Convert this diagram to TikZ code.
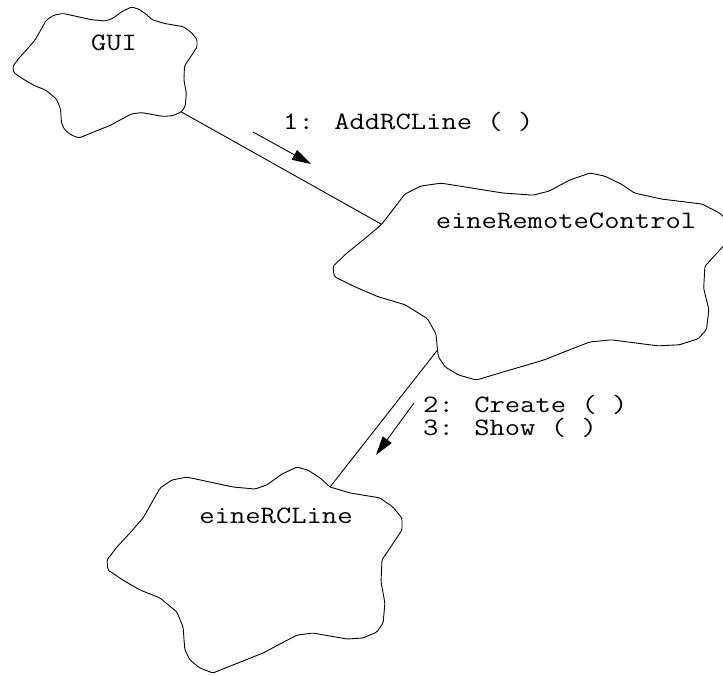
\documentclass[tikz,border=0pt]{standalone}
\usepackage{fontspec}
\usepackage{graphicx}
\usetikzlibrary{arrows.meta}

% outline of an object cloud, in unit coordinates (u to the right, v downwards)
\def\cloudpts{0.180/0.102, 0.220/0.063, 0.271/0.049, 0.349/0.073, 0.427/0.097,
  0.502/0.107, 0.542/0.087, 0.593/0.034, 0.644/0.000, 0.681/0.015, 0.722/0.053,
  0.756/0.097, 0.824/0.126, 0.925/0.150, 0.969/0.194, 1.000/0.248, 1.000/0.306,
  0.966/0.379, 0.932/0.451, 0.929/0.558, 0.942/0.660, 0.936/0.757, 0.915/0.801,
  0.868/0.830, 0.814/0.835, 0.698/0.806, 0.644/0.816, 0.593/0.854, 0.529/0.903,
  0.427/0.961, 0.359/1.000, 0.315/0.976, 0.281/0.937, 0.264/0.888, 0.262/0.855,
  0.258/0.777, 0.237/0.704, 0.180/0.636, 0.112/0.597, 0.054/0.549, 0.003/0.500,
  0.000/0.451, 0.034/0.388, 0.078/0.320, 0.122/0.248}

% \objcloud{name}{left}{top}{width}{height}
\newcommand{\objcloud}[5]{%
  \foreach \u/\v [count=\i] in \cloudpts {
    \coordinate (#1-\i) at ({#2+#4*\u},{#3+#5*\v});
  }
  \draw[cloudline] (#1-1) \foreach \i in {2,...,45} { -- (#1-\i) } -- cycle;
}

% wide typewriter lettering
\newcommand{\tw}[1]{\scalebox{1.19}[1]{#1}}

\begin{document}
\begin{tikzpicture}[x=1pt,y=-1pt,
  cloudline/.style={line width=0.9pt, line join=round, rounded corners=1.5pt},
  link/.style={line width=0.9pt},
  msg/.style={line width=0.9pt, -{Triangle[length=19pt,width=11pt]}},
  lbl/.style={font=\ttfamily\fontsize{25}{25}\selectfont, inner sep=0pt}]
  \useasboundingbox (0,0) rectangle (723,675);
  \clip (0,0) rectangle (723,675);

  % objects
  \objcloud{gui}{13}{7}{184}{131}
  \objcloud{rc}{333}{173}{399}{207}
  \objcloud{line}{107}{467}{295}{206}

  \node[lbl, anchor=base] (guitxt) at (114,50) {\tw{GUI}};
  \node[lbl, anchor=base] (rctxt) at (566,228) {\tw{eineRemoteControl}};
  \node[lbl, anchor=base] (linetxt) at (276,523) {\tw{eineRCLine}};

  % links
  \draw[link] (gui-23) -- (rc-45);
  \draw[link] (rc-35) -- (line-12);

  % messages
  \coordinate (m1a) at (253,132);
  \coordinate (m1b) at (311,164);
  \draw[msg] (m1a) -- (m1b);
  \node[lbl, anchor=base west] (m1) at (283,129) {\tw{1: AddRCLine ( )}};

  \coordinate (m2a) at (414,403);
  \coordinate (m2b) at (376,455);
  \draw[msg] (m2a) -- (m2b);
  \node[lbl, anchor=base west] (m2) at (423,412) {\tw{2: Create ( )}};
  \node[lbl, anchor=base west] (m3) at (423,435) {\tw{3: Show ( )}};
\end{tikzpicture}
\end{document}
